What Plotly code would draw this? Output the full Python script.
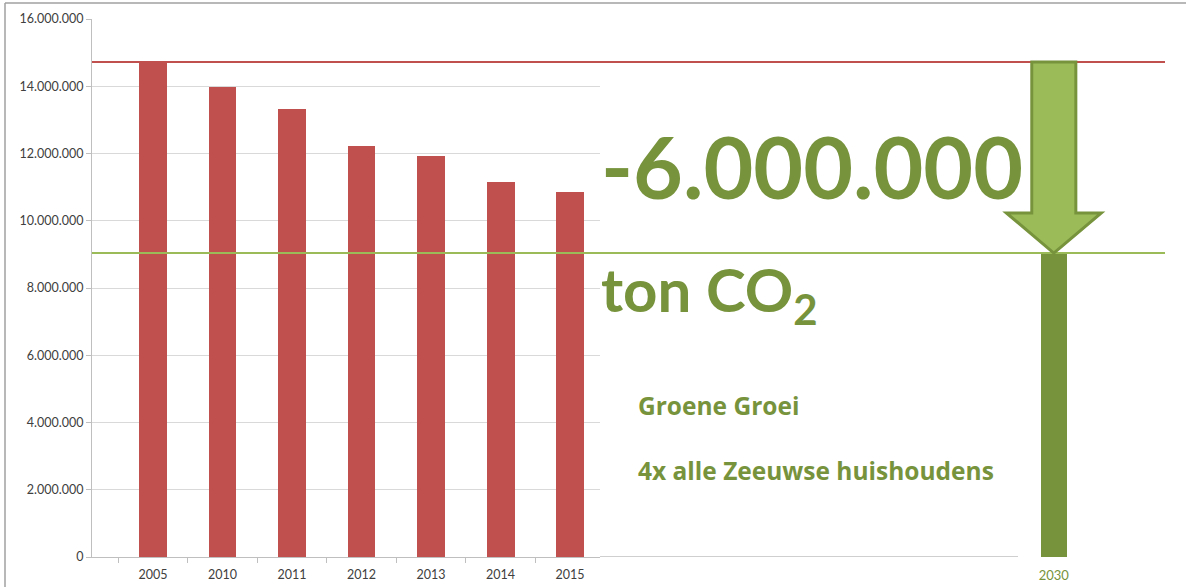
import plotly.graph_objects as go

# ---- data ----
years = ["2005", "2010", "2011", "2012", "2013", "2014", "2015"]
emissions = [14720000, 13980000, 13320000, 12220000, 11930000, 11150000, 10860000]
target_year = ["2030"]
target_value = [9040000]
y_ticks = [0, 2000000, 4000000, 6000000, 8000000, 10000000, 12000000, 14000000, 16000000]
big_text = "-6.000.000"
unit_text = "ton CO<sub>2</sub>"
note1 = "Groene Groei"
note2 = "4x alle Zeeuwse huishoudens"

# ---- layout geometry (pixels) ----
W, H = 1186, 587
ML, MR, MT, MB = 92, 21, 19, 30
PW = W - ML - MR
PH = H - MT - MB

def px(x):
    return (x - ML) / PW

def py(y):
    return (H - MB - y) / PH

RED = "#c0504d"
LGREEN = "#9bbb59"
DGREEN = "#77933c"
GRID = "#d9d9d9"
AXIS = "#bfbfbf"
FONT = "Lato"

x_left = list(range(len(years)))
x_target = [13]

fig = go.Figure()
fig.add_trace(go.Bar(x=x_left, y=emissions, marker=dict(color=RED, line=dict(width=0)),
                     width=0.4, xaxis="x", yaxis="y", showlegend=False, hoverinfo="skip"))
fig.add_trace(go.Bar(x=x_target, y=target_value, marker=dict(color=DGREEN, line=dict(width=0)),
                     width=0.374, xaxis="x2", yaxis="y2", showlegend=False, hoverinfo="skip"))

d1 = px(600)
yr = [0, 16000000]
fig.update_layout(
    width=W, height=H,
    margin=dict(l=ML, r=MR, t=MT, b=MB, autoexpand=False),
    paper_bgcolor="white", plot_bgcolor="white",
    separators=",.",
    font=dict(family=FONT, color="#404040", size=12),
    xaxis=dict(domain=[0, d1], range=[-0.878, 6.43], tickvals=x_left, ticktext=years,
               ticks="outside", ticklen=6, tickcolor="rgba(0,0,0,0)", automargin=False,
               showline=True, linecolor=AXIS, linewidth=1, showgrid=False, zeroline=False,
               minor=dict(ticks="outside", tick0=-0.5, dtick=1, ticklen=5, tickcolor=AXIS, showgrid=False),
               tickfont=dict(size=12.5, color="#404040"), anchor="y"),
    yaxis=dict(range=yr, tickvals=y_ticks, tickformat=",d", showgrid=True, gridcolor=GRID,
               showline=True, linecolor=AXIS, ticks="outside", ticklen=5, tickcolor=AXIS,
               automargin=False,
               zeroline=False, tickfont=dict(size=12.5, color="#404040"), anchor="x"),
    xaxis2=dict(domain=[d1, 1], range=[6.47, 14.6], tickvals=x_target, ticktext=target_year,
                showline=False, showgrid=False, zeroline=False, automargin=False,
                ticks="outside", ticklen=6, tickcolor="rgba(0,0,0,0)",
                tickfont=dict(size=13, color=DGREEN), anchor="y2"),
    yaxis2=dict(range=yr, visible=False, anchor="x2", showgrid=False, automargin=False),
    bargap=0,
)

base = emissions[0]
goal = target_value[0]
shapes = []
# outer border of the pasted chart
shapes.append(dict(type="line", xref="paper", yref="paper", x0=px(5), x1=px(W), y0=py(3), y1=py(3),
                   line=dict(color="#a0a0a0", width=1.5)))
shapes.append(dict(type="line", xref="paper", yref="paper", x0=px(5), x1=px(5), y0=py(3), y1=py(H),
                   line=dict(color="#a0a0a0", width=1.5)))
# axis continuation
shapes.append(dict(type="line", xref="paper", yref="y", x0=d1, x1=px(1018), y0=0, y1=0,
                   line=dict(color=AXIS, width=1.5)))
# reference lines
shapes.append(dict(type="line", xref="paper", yref="y", x0=0, x1=1, y0=base, y1=base,
                   line=dict(color=RED, width=2)))
shapes.append(dict(type="line", xref="paper", yref="y", x0=0, x1=1, y0=goal, y1=goal,
                   line=dict(color=LGREEN, width=2)))
# arrow from base to goal
c = x_target[0]
sw, hw = 0.317, 0.683
head = goal + (base - goal) * 0.21
path = (f"M {c-sw},{base} L {c+sw},{base} L {c+sw},{head} L {c+hw},{head} "
        f"L {c},{goal} L {c-hw},{head} L {c-sw},{head} Z")
shapes.append(dict(type="path", xref="x2", yref="y2", path=path, fillcolor=LGREEN,
                   line=dict(color=DGREEN, width=3)))
fig.update_layout(shapes=shapes)

ann = []
ann.append(dict(text=f"<b>{big_text}</b>", xref="paper", yref="paper", x=px(599), y=py(165),
                xanchor="left", yanchor="middle", showarrow=False,
                font=dict(family=FONT, size=86, color=DGREEN)))
ann.append(dict(text=f"<b>{unit_text}</b>", xref="paper", yref="paper", x=px(599), y=py(294),
                xanchor="left", yanchor="middle", showarrow=False,
                font=dict(family=FONT, size=60, color=DGREEN)))
ann.append(dict(text=f"<b>{note1}</b>", xref="paper", yref="paper", x=px(636), y=py(405),
                xanchor="left", yanchor="middle", showarrow=False,
                font=dict(family="Open Sans", size=24.5, color=DGREEN)))
ann.append(dict(text=f"<b>{note2}</b>", xref="paper", yref="paper", x=px(636), y=py(470),
                xanchor="left", yanchor="middle", showarrow=False,
                font=dict(family="Open Sans", size=24.5, color=DGREEN)))
fig.update_layout(annotations=ann)

fig.write_html("out.html", config={"displayModeBar": False},
               post_script="document.body.style.margin='0';")
